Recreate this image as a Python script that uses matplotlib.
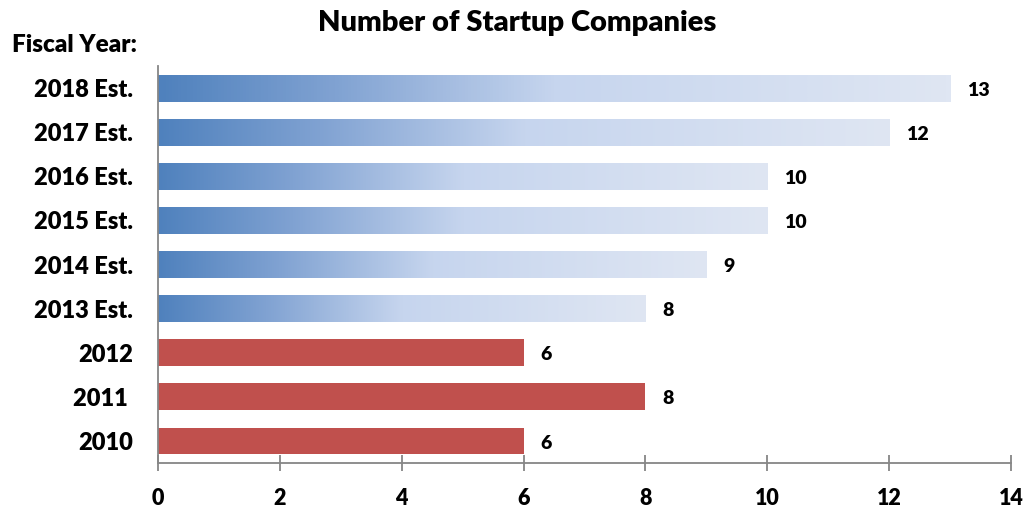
import matplotlib.pyplot as plt
import numpy as np
from matplotlib.colors import LinearSegmentedColormap

# data (bottom to top)
years = ["2010", "2011 ", "2012", "2013 Est.", "2014 Est.", "2015 Est.",
         "2016 Est.", "2017 Est.", "2018 Est."]
companies = [6, 8, 6, 8, 9, 10, 10, 12, 13]
is_estimate = [False, False, False, True, True, True, True, True, True]

# Lato ExtraBold is the closest stand-in for Calibri Bold here
plt.rcParams["font.family"] = ["Lato", "DejaVu Sans"]
plt.rcParams["font.weight"] = 800
W = 800

fig = plt.figure(figsize=(10.34, 5.11), dpi=100)
ax = fig.add_axes([0.1528, 0.0939, 0.9778 - 0.1528, 0.8708 - 0.0939])

blue_grad = LinearSegmentedColormap.from_list(
    "est", [(0.0, "#4F81BD"), (0.22, "#80A2D2"), (0.5, "#C6D5EE"), (1.0, "#DFE6F3")]
)
grad = np.linspace(0, 1, 256).reshape(1, -1)

bar_h = 0.61
y = np.arange(len(years))
for yi, val, est in zip(y, companies, is_estimate):
    if est:
        bar = ax.barh(yi, val, height=bar_h, color="none", edgecolor="none")[0]
        im = ax.imshow(grad, cmap=blue_grad, aspect="auto",
                       extent=(0, val, yi - bar_h / 2, yi + bar_h / 2),
                       interpolation="bicubic", zorder=2)
        im.set_clip_path(bar)
    else:
        ax.barh(yi, val, height=bar_h, color="#C0504D", zorder=2)
    ax.annotate(str(val), (val, yi), xytext=(12, -1.5), textcoords="offset points",
                ha="left", va="center", fontsize=14, fontweight=W)

ax.set_xlim(0, 14)
ax.set_ylim(-0.5, len(years) - 0.5)
ax.set_xticks(range(0, 15, 2))
ax.set_yticks(y)
ax.set_yticklabels(years, fontweight=W)
for lbl in ax.get_xticklabels():
    lbl.set_fontweight(W)

for s in ["top", "right"]:
    ax.spines[s].set_visible(False)
for s in ["left", "bottom"]:
    ax.spines[s].set_color("#868686")
    ax.spines[s].set_linewidth(1.3)

ax.tick_params(axis="y", length=0, pad=18, labelsize=17)
ax.tick_params(axis="x", direction="inout", length=12, width=1.3, color="#868686",
               pad=12, labelsize=15.5)

fig.text(0.5, 0.955, "Number of Startup Companies", ha="center", va="center",
         fontsize=21, fontweight=W)
fig.text(0.012, 0.912, "Fiscal Year:", ha="left", va="center",
         fontsize=17.5, fontweight=W)

fig.savefig("out.png", dpi=100)
